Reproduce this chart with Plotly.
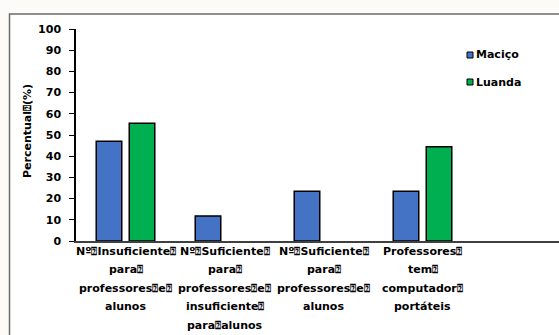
import plotly.graph_objects as go

# Categories (one list of text lines per category, Q = unresolved glyph box)
Q = "<span style='font-size:9.5px'>\u2370</span>"
category_lines = [
    ["Nº" + Q + "Insuficiente" + Q, "para" + Q, "professores" + Q + "e" + Q, "alunos"],
    ["Nº" + Q + "Suficiente" + Q, "para" + Q, "professores" + Q + "e" + Q, "insuficiente" + Q, "para" + Q + "alunos"],
    ["Nº" + Q + "Suficiente" + Q, "para" + Q, "professores" + Q + "e" + Q, "alunos"],
    ["Professores" + Q, "tem" + Q, "computador" + Q, "portáteis"],
]
categories = [0, 1, 2, 3]

series_names = ["Maciço", "Luanda"]
macico = [47.1, 11.8, 23.5, 23.5]
luanda = [55.6, None, None, 44.4]
colors = ["#4472C4", "#00B050"]

y_ticks = [0, 10, 20, 30, 40, 50, 60, 70, 80, 90, 100]
y_title = "Percentual" + Q + "(%)"

W, H = 559, 335
ML, MR, MT, MB = 76, 0, 29, 94
PW, PH = W - ML - MR, H - MT - MB


def px_x(p):
    return (p - ML) / PW


def px_y(p):
    return (H - MB - p) / PH


FONT = dict(family="DejaVu Sans", size=11, color="#000000", weight=700)

fig = go.Figure()
for name, vals, col in zip(series_names, [macico, luanda], colors):
    fig.add_trace(go.Bar(
        x=categories, y=vals, name=name, showlegend=False,
        marker=dict(color=col, line=dict(color="#000000", width=1.5)),
    ))

shapes = [
    # outer frame around the chart
    dict(type="rect", xref="paper", yref="paper", layer="below",
         x0=px_x(9.5), x1=px_x(W + 10), y0=px_y(H + 10), y1=px_y(14),
         line=dict(color="#6b6b6b", width=1.5), fillcolor="#ffffff"),
]
annotations = []

# legend swatches and labels
for i, (name, col) in enumerate(zip(series_names, colors)):
    cy = 55 + 27 * i
    shapes.append(dict(type="rect", xref="paper", yref="paper",
                       x0=px_x(467), x1=px_x(473), y0=px_y(cy + 3), y1=px_y(cy - 3),
                       line=dict(color="#000000", width=1), fillcolor=col))
    annotations.append(dict(xref="paper", yref="paper", x=px_x(474), y=px_y(cy),
                            xanchor="left", yanchor="middle", showarrow=False,
                            text=name, font=FONT))

# category labels, one annotation per line
for c, lines in zip(categories, category_lines):
    for j, line in enumerate(lines):
        annotations.append(dict(xref="x", yref="paper", x=c, y=0,
                                yshift=-(10 + 18.6 * j), xanchor="center",
                                yanchor="middle", showarrow=False,
                                text=line, font=FONT))

# y-axis title
annotations.append(dict(xref="paper", yref="paper", x=0, y=px_y(131),
                        xshift=27 - ML, xanchor="center", yanchor="middle",
                        textangle=-90, showarrow=False, text=y_title, font=FONT))

fig.update_layout(
    width=W, height=H,
    margin=dict(l=ML, r=MR, t=MT, b=MB, pad=0),
    paper_bgcolor="#fcfbf8", plot_bgcolor="#ffffff",
    barmode="group", bargap=0.333, bargroupgap=0.227,
    font=FONT, showlegend=False,
    shapes=shapes, annotations=annotations,
    xaxis=dict(range=[-0.5, -0.5 + PW / 99.0], showticklabels=False, ticks="",
               showgrid=False, zeroline=False, showline=True,
               linecolor="#404040", linewidth=1.5, fixedrange=True),
    yaxis=dict(range=[0, 100], tickvals=y_ticks, ticks="outside", ticklen=5,
               tickwidth=1, tickcolor="#000000", showgrid=False, zeroline=False,
               showline=True, linecolor="#000000", linewidth=1.5,
               ticklabelstandoff=6, tickfont=FONT, fixedrange=True),
)

fig.write_html("out.html")
